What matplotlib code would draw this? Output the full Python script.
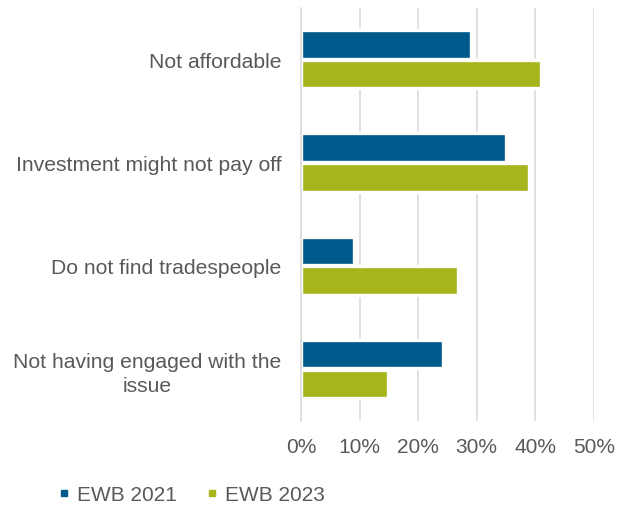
import matplotlib
matplotlib.use("Agg")
import matplotlib.pyplot as plt
from matplotlib.lines import Line2D
import numpy as np

# Reasons for not investing, share of respondents (%)
categories = [
    "Not affordable",
    "Investment might not pay off",
    "Do not find tradespeople",
    "Not having engaged with the\nissue",
]
ewb_2021 = [29.0, 35.0, 9.0, 24.2]
ewb_2023 = [41.0, 39.0, 26.8, 14.9]
series_names = ["EWB 2021", "EWB 2023"]
x_ticks = [0, 10, 20, 30, 40, 50]

BLUE = "#005B8C"
GREEN = "#A7B51C"
TEXT = "#595959"
GRID = "#D9D9D9"
FS = 15.0
FS_Y = 15.25

plt.rcParams["font.family"] = ["Liberation Sans", "DejaVu Sans"]

fig = plt.figure(figsize=(6.25, 5.06), dpi=100)
ax = fig.add_axes([301 / 625, 1 - 421.7 / 506, (593.7 - 301) / 625, (421.7 - 8.5) / 506])

y = np.arange(len(categories))
h = 0.277
off = 0.144
ax.barh(y - off, ewb_2021, height=h, color=BLUE, edgecolor="white",
        linewidth=2.4, zorder=3)
ax.barh(y + off, ewb_2023, height=h, color=GREEN, edgecolor="white",
        linewidth=2.4, zorder=3)

ax.set_ylim(len(categories) - 0.5, -0.5)
ax.set_xlim(0, 50)
ax.set_xticks(x_ticks)
ax.set_xticklabels([f"{t}%" for t in x_ticks])
ax.set_yticks(y)
ax.set_yticklabels(categories)
for lbl in ax.get_yticklabels():
    lbl.set_multialignment("center")
    lbl.set_linespacing(1.3)

ax.grid(axis="x", color=GRID, linewidth=1.1, zorder=0)
ax.grid(axis="y", visible=False)
ax.set_axisbelow(True)
for side in ["top", "right", "bottom"]:
    ax.spines[side].set_visible(False)
ax.spines["left"].set_color(GRID)
ax.spines["left"].set_linewidth(1.1)
ax.spines["left"].set_zorder(4)

ax.tick_params(axis="both", length=0, labelcolor=TEXT)
ax.tick_params(axis="y", pad=13.9, labelsize=FS_Y)
ax.tick_params(axis="x", pad=12.0, labelsize=FS)

handles = [
    Line2D([], [], marker="s", linestyle="none", markersize=4,
           markerfacecolor=c, markeredgecolor=c)
    for c in (BLUE, GREEN)
]
fig.legend(handles, series_names, loc="center left",
           bbox_to_anchor=(58.5 / 625, 1 - 495.5 / 506), ncol=2,
           frameon=False, fontsize=FS, labelcolor=TEXT, borderpad=0,
           borderaxespad=0, handlelength=0.5, handletextpad=0.4,
           columnspacing=1.4)

fig.savefig("out.png", dpi=100, facecolor="white")
